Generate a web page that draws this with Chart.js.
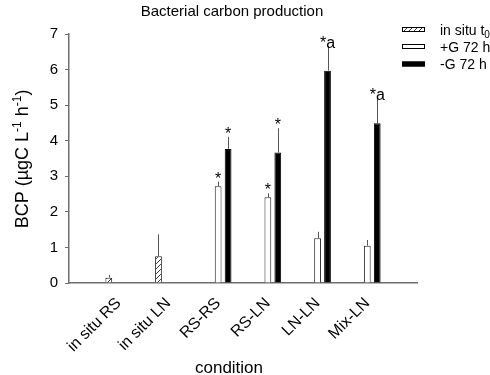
<!DOCTYPE html>
<html>
<head>
<meta charset="utf-8">
<script src="https://cdn.jsdelivr.net/npm/chart.js@4.4.0/dist/chart.umd.min.js"></script>
<style>
  html, body { margin: 0; padding: 0; background: #fff; }
  #wrap { width: 490px; height: 375px; }
</style>
</head>
<body>
<div id="wrap"><canvas id="bcpChart" width="490" height="375"></canvas></div>
<script>
// --- Data ---
const categories = ['in situ RS', 'in situ LN', 'RS-RS', 'RS-LN', 'LN-LN', 'Mix-LN'];
const seriesNames = ['in situ t', '+G 72 h', '-G 72 h'];
const inSituT0    = [0.15, 0.75, null, null, null, null];
const inSituT0Err = [0.08, 0.62, null, null, null, null];
const plusG       = [null, null, 2.72, 2.41, 1.26, 1.05];
const plusGErr    = [null, null, 0.13, 0.11, 0.18, 0.16];
const minusG      = [null, null, 3.77, 3.67, 5.97, 4.49];
const minusGErr   = [null, null, 0.34, 0.68, 0.69, 0.72];
const plusGMarks  = ['', '', '*', '*', '', ''];
const minusGMarks = ['', '', '*', '*', '*a', '*a'];
const yTicks = [0, 1, 2, 3, 4, 5, 6, 7];

const FONT = '"Liberation Sans", Arial, sans-serif';
const AXIS = '#6e6e6e';

// one empty slot on each side of the category axis
const pad = arr => [null, ...arr, null];

// hatched fill for in situ t0
function hatch() {
    const c = document.createElement('canvas');
    c.width = 5; c.height = 5;
    const g = c.getContext('2d');
    g.fillStyle = '#fff';
    g.fillRect(0, 0, 5, 5);
    g.strokeStyle = '#333';
    g.lineWidth = 1;
    g.beginPath();
    g.moveTo(-1, 6); g.lineTo(6, -1);
    g.moveTo(-1, 1); g.lineTo(1, -1);
    g.moveTo(4, 6); g.lineTo(6, 4);
    g.stroke();
    return g.createPattern(c, 'repeat');
}
const hatchFill = hatch();

// --- Error bars + significance marks ---
const errorBars = {
    id: 'errorBars',
    afterDatasetsDraw(chart) {
        const ctx = chart.ctx;
        const y = chart.scales.y;
        ctx.save();
        chart.data.datasets.forEach((ds, i) => {
            chart.getDatasetMeta(i).data.forEach((bar, j) => {
                const v = ds.data[j];
                if (v == null) return;
                const top = y.getPixelForValue(v + ds.errors[j]);
                ctx.strokeStyle = '#555';
                ctx.lineWidth = 1;
                ctx.beginPath();
                ctx.moveTo(Math.round(bar.x) + 0.5, bar.y);
                ctx.lineTo(Math.round(bar.x) + 0.5, top);
                ctx.stroke();
                if (ds.marks[j]) {
                    ctx.fillStyle = '#000';
                    ctx.font = '16px ' + FONT;
                    ctx.textAlign = 'center';
                    ctx.textBaseline = 'alphabetic';
                    ctx.fillText(ds.marks[j], bar.x, top + 2);
                }
            });
        });
        ctx.restore();
    }
};

// --- Titles and legend ---
const decorations = {
    id: 'decorations',
    afterDraw(chart) {
        const ctx = chart.ctx;
        ctx.save();
        ctx.fillStyle = '#000';
        ctx.textBaseline = 'alphabetic';

        // chart title
        ctx.font = '15px ' + FONT;
        ctx.textAlign = 'center';
        ctx.fillText('Bacterial carbon production', 232, 16);

        // x title
        ctx.font = '17px ' + FONT;
        ctx.fillText('condition', 229, 373);

        // y title with superscripts
        const parts = [['BCP (\u00b5gC L', false], ['-1', true], [' h', false], ['-1', true], [')', false]];
        const big = '18px ' + FONT, small = '12px ' + FONT;
        let total = 0;
        parts.forEach(([t, sup]) => { ctx.font = sup ? small : big; total += ctx.measureText(t).width; });
        ctx.translate(28, 159);
        ctx.rotate(-Math.PI / 2);
        ctx.textAlign = 'left';
        let x = -total / 2;
        parts.forEach(([t, sup]) => {
            ctx.font = sup ? small : big;
            ctx.fillText(t, x, sup ? -7 : 0);
            x += ctx.measureText(t).width;
        });
        ctx.setTransform(1, 0, 0, 1, 0, 0);

        // legend
        const rows = [29.5, 46.5, 64];
        chart.data.datasets.forEach((ds, i) => {
            const cy = rows[i];
            ctx.fillStyle = ds.backgroundColor;
            ctx.fillRect(402, cy - 2.5, 23, 5);
            ctx.strokeStyle = '#000';
            ctx.lineWidth = 1;
            ctx.strokeRect(402.5, cy - 2, 22, 4);
            ctx.fillStyle = '#000';
            ctx.font = '14px ' + FONT;
            ctx.textAlign = 'left';
            ctx.fillText(seriesNames[i], 440, cy + 5);
            if (i === 0) {
                const w = ctx.measureText(seriesNames[i]).width;
                ctx.font = '10px ' + FONT;
                ctx.fillText('0', 440 + w, cy + 8);
            }
        });
        ctx.restore();
    }
};

new Chart(document.getElementById('bcpChart'), {
    type: 'bar',
    data: {
        labels: pad(categories).map(c => c || ''),
        datasets: [
            { label: seriesNames[0], data: pad(inSituT0), errors: pad(inSituT0Err), marks: pad(['', '', '', '', '', '']),
              backgroundColor: hatchFill, borderColor: '#222', borderWidth: 1 },
            { label: seriesNames[1], data: pad(plusG), errors: pad(plusGErr), marks: pad(plusGMarks),
              backgroundColor: '#fff', borderColor: '#222', borderWidth: 1 },
            { label: seriesNames[2], data: pad(minusG), errors: pad(minusGErr), marks: pad(minusGMarks),
              backgroundColor: '#000', borderColor: '#000', borderWidth: 1 }
        ]
    },
    options: {
        responsive: false,
        animation: false,
        layout: { padding: { top: 34, right: 73, bottom: 0, left: 0 } },
        categoryPercentage: 0.6,
        barPercentage: 0.68,
        plugins: { legend: { display: false }, tooltip: { enabled: false } },
        scales: {
            x: {
                offset: false,
                grid: { display: false },
                border: { display: true, color: AXIS, width: 1.5 },
                ticks: {
                    color: '#000', font: { family: FONT, size: 16 },
                    minRotation: 45, maxRotation: 45, autoSkip: false, padding: 3
                },
                afterFit: s => { s.height = 92; }
            },
            y: {
                min: 0, max: 7,
                afterBuildTicks: s => { s.ticks = yTicks.map(v => ({ value: v })); },
                grid: { drawOnChartArea: false, drawTicks: true, tickLength: 4, color: AXIS },
                border: { display: true, color: AXIS, width: 1.5 },
                ticks: { color: '#000', font: { family: FONT, size: 15 }, padding: 7 },
                afterFit: s => { s.width = 69; }
            }
        }
    },
    plugins: [errorBars, decorations]
});
</script>
</body>
</html>
